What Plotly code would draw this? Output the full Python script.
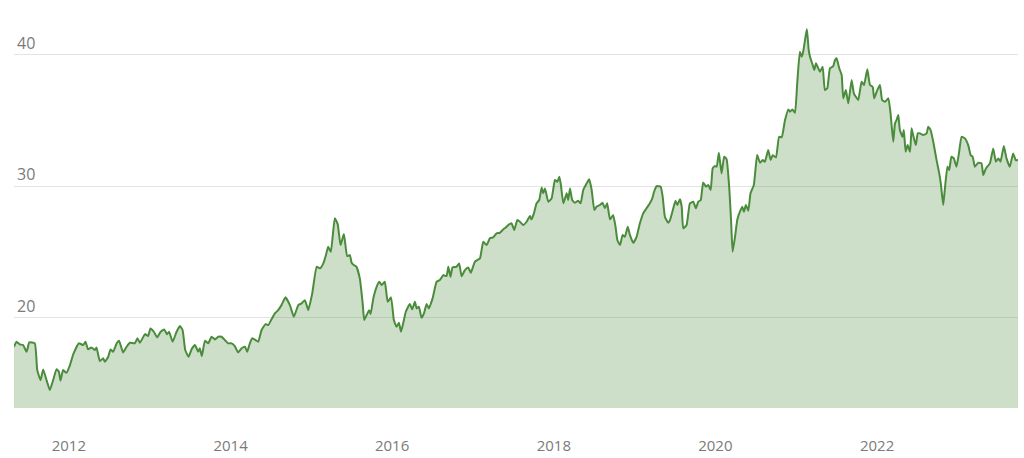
import plotly.graph_objects as go

dates = [
"2011-04-28","2011-05-09","2011-05-24","2011-06-08","2011-06-24","2011-07-06","2011-07-31","2011-08-11","2011-08-26","2011-09-07",
"2011-09-22","2011-10-07","2011-10-22","2011-11-06","2011-11-17","2011-11-24","2011-12-06","2011-12-21","2012-01-06","2012-01-21",
"2012-02-15","2012-03-06","2012-03-16","2012-03-28","2012-04-12","2012-04-28","2012-05-05","2012-05-20","2012-06-04","2012-06-12",
"2012-06-27","2012-07-07","2012-07-19","2012-08-04","2012-08-15","2012-09-02","2012-09-18","2012-10-03","2012-10-25","2012-11-06",
"2012-11-17","2012-12-10","2012-12-24","2013-01-04","2013-01-19","2013-02-03","2013-02-19","2013-03-07","2013-03-20","2013-03-29",
"2013-04-14","2013-05-02","2013-05-17","2013-05-29","2013-06-10","2013-06-25","2013-07-09","2013-07-24","2013-08-08","2013-08-15",
"2013-08-24","2013-09-07","2013-09-22","2013-10-07","2013-10-22","2013-11-06","2013-11-21","2013-12-06","2013-12-21","2014-01-05",
"2014-01-20","2014-02-04","2014-02-20","2014-03-07","2014-03-17","2014-03-29","2014-04-09","2014-04-24","2014-05-06","2014-05-21",
"2014-06-08","2014-06-20","2014-07-05","2014-07-20","2014-08-04","2014-08-19","2014-09-06","2014-09-26","2014-10-14","2014-11-03",
"2014-11-18","2014-12-03","2014-12-18","2015-01-05","2015-01-25","2015-02-09","2015-02-24","2015-03-08","2015-03-18","2015-03-30",
"2015-04-17","2015-04-30","2015-05-13","2015-05-28","2015-06-12","2015-06-24","2015-07-02","2015-07-12","2015-07-24","2015-08-08",
"2015-08-21","2015-08-28","2015-09-08","2015-09-19","2015-09-26","2015-10-08","2015-10-23","2015-11-04","2015-11-15","2015-11-29",
"2015-12-12","2015-12-27","2016-01-09","2016-01-21","2016-02-01","2016-02-10","2016-02-20","2016-03-03","2016-03-21","2016-04-01",
"2016-04-13","2016-04-21","2016-05-01","2016-05-13","2016-05-24","2016-06-05","2016-06-15","2016-07-02","2016-07-20","2016-08-04",
"2016-08-19","2016-09-03","2016-09-11","2016-09-21","2016-09-30","2016-10-18","2016-10-30","2016-11-10","2016-11-25","2016-12-10",
"2016-12-22","2017-01-09","2017-02-01","2017-02-16","2017-03-03","2017-03-18","2017-04-02","2017-04-17","2017-05-02","2017-05-17",
"2017-05-29","2017-06-09","2017-06-24","2017-07-06","2017-07-20","2017-08-01","2017-08-16","2017-08-31","2017-09-15","2017-09-22",
"2017-10-03","2017-10-15","2017-10-27","2017-11-07","2017-11-14","2017-11-22","2017-12-07","2017-12-22","2018-01-06","2018-01-17",
"2018-01-26","2018-02-02","2018-02-13","2018-02-28","2018-03-07","2018-03-15","2018-03-25","2018-04-06","2018-04-21","2018-05-02",
"2018-05-14","2018-05-29","2018-06-10","2018-06-21","2018-07-03","2018-07-13","2018-07-28","2018-08-09","2018-08-20","2018-08-30",
"2018-09-12","2018-09-26","2018-10-07","2018-10-15","2018-10-27","2018-11-08","2018-11-18","2018-12-01","2018-12-11","2018-12-26",
"2019-01-10","2019-01-25","2019-02-09","2019-02-24","2019-03-11","2019-03-22","2019-03-30","2019-04-11","2019-04-29","2019-05-08",
"2019-05-18","2019-06-02","2019-06-10","2019-06-25","2019-07-05","2019-07-13","2019-07-25","2019-08-02","2019-08-09","2019-08-24",
"2019-09-08","2019-09-23","2019-10-05","2019-10-16","2019-10-27","2019-11-07","2019-11-20","2019-11-30","2019-12-11","2019-12-20",
"2019-12-30","2020-01-07","2020-01-17","2020-01-29","2020-02-10","2020-02-21","2020-03-04","2020-03-12","2020-03-19","2020-03-30",
"2020-04-09","2020-04-21","2020-05-02","2020-05-09","2020-05-18","2020-05-29","2020-06-08","2020-06-23","2020-07-08","2020-07-21",
"2020-08-02","2020-08-12","2020-08-27","2020-09-07","2020-09-16","2020-10-01","2020-10-15","2020-10-27","2020-11-11","2020-11-26",
"2020-12-03","2020-12-14","2020-12-26","2021-01-05","2021-01-17","2021-01-25","2021-02-01","2021-02-13","2021-02-18","2021-02-26",
"2021-03-04","2021-03-16","2021-03-23","2021-03-31","2021-04-07","2021-04-18","2021-04-30","2021-05-10","2021-05-21","2021-06-02",
"2021-06-17","2021-06-25","2021-07-02","2021-07-14","2021-07-25","2021-08-01","2021-08-13","2021-08-24","2021-09-08","2021-09-18",
"2021-09-27","2021-10-08","2021-10-23","2021-11-03","2021-11-18","2021-11-30","2021-12-12","2021-12-19","2022-01-02","2022-01-14",
"2022-01-24","2022-02-06","2022-02-21","2022-03-03","2022-03-15","2022-03-23","2022-03-30","2022-04-07","2022-04-14","2022-04-26",
"2022-05-02","2022-05-10","2022-05-19","2022-05-30","2022-06-06","2022-06-13","2022-06-25","2022-07-04","2022-07-14","2022-07-29",
"2022-08-13","2022-08-20","2022-08-31","2022-09-12","2022-09-27","2022-10-09","2022-10-16","2022-10-27","2022-11-03","2022-11-15",
"2022-11-23","2022-12-03","2022-12-14","2022-12-26","2023-01-06","2023-01-18","2023-02-02","2023-02-17","2023-02-28","2023-03-09",
"2023-03-19","2023-04-03","2023-04-18","2023-04-26","2023-05-08","2023-05-26","2023-06-10","2023-06-22","2023-07-03","2023-07-13",
"2023-07-28","2023-08-09","2023-08-24","2023-09-08","2023-09-20","2023-09-30",
]

values = [
17.80,18.18,17.98,17.93,17.42,18.13,18.06,16.03,15.27,16.08,
15.27,14.51,15.27,16.10,15.90,15.22,16.03,15.82,16.41,17.24,
18.06,17.93,18.18,17.60,17.75,17.55,17.75,16.71,16.92,16.66,
17.04,17.60,17.42,18.06,18.25,17.37,17.80,18.10,18.06,18.44,
18.10,18.76,18.61,19.19,18.94,18.51,18.94,19.12,18.74,18.94,
18.18,18.94,19.37,19.07,17.55,17.04,17.62,17.93,17.42,17.68,
17.09,18.25,18.06,18.56,18.36,18.56,18.56,18.31,18.06,18.06,
17.85,17.37,17.68,17.80,17.42,18.06,18.44,18.31,18.18,19.07,
19.52,19.45,19.88,20.33,20.58,20.96,21.55,20.96,20.08,20.96,
21.09,21.34,20.58,21.85,23.87,23.75,24.13,24.76,25.39,25.01,
27.55,27.11,25.52,26.36,24.68,24.76,24.18,24.00,23.87,22.99,
21.09,19.83,20.21,20.58,20.28,21.47,22.35,22.73,22.48,22.73,
21.21,21.55,19.83,19.32,19.62,18.94,19.57,20.46,21.04,20.64,
21.21,20.71,20.84,20.00,20.33,21.04,20.71,21.47,22.73,22.86,
23.24,23.16,23.87,23.11,23.82,23.87,24.13,23.16,23.62,23.82,
23.42,24.25,24.51,25.77,25.52,26.03,26.10,26.41,26.45,26.71,
26.86,27.04,27.17,26.66,27.42,27.29,27.04,27.29,27.72,27.47,
27.93,28.69,28.94,29.90,29.45,29.82,28.81,29.07,30.46,30.33,
30.71,30.08,28.69,29.45,28.94,29.82,28.94,28.73,28.89,28.69,
29.70,30.20,30.51,29.70,28.18,28.43,28.56,28.73,28.31,28.69,
27.47,27.80,26.91,25.90,25.52,26.28,26.15,26.91,26.28,25.70,
26.15,27.17,27.93,28.31,28.69,29.07,29.57,30.00,29.95,29.19,
27.67,27.21,27.42,28.31,28.89,28.56,28.99,28.43,26.79,27.04,
28.69,28.81,28.31,28.81,28.94,30.28,29.95,30.08,29.70,31.34,
31.52,31.47,32.53,30.96,32.23,32.03,29.82,27.42,25.01,26.15,
27.42,28.05,28.43,28.05,28.56,28.13,29.45,30.08,32.35,31.77,
31.97,31.85,32.73,31.97,32.35,32.18,33.74,33.70,35.01,35.82,
35.64,35.82,35.57,37.80,40.20,39.82,40.20,41.47,41.90,40.33,
39.82,39.19,38.81,39.32,39.06,38.68,39.06,37.29,37.42,38.94,
39.11,39.57,39.70,38.94,38.43,36.66,37.29,36.28,38.05,37.04,
36.78,36.53,37.92,37.67,38.86,37.67,37.54,36.66,37.29,37.67,
36.53,36.40,36.66,35.52,33.36,34.76,35.01,35.39,34.25,33.74,
34.25,32.61,33.11,32.61,34.38,33.87,33.11,34.00,34.00,33.87,
34.00,34.50,34.25,33.36,31.97,30.96,30.20,28.56,29.70,31.47,
31.21,32.23,32.10,31.47,32.48,33.74,33.62,33.11,32.35,32.23,
31.47,31.77,31.72,30.83,31.34,31.72,32.86,31.85,32.10,31.85,
33.04,32.10,31.47,32.48,31.97,31.97,
]

y_ticks = [20, 30, 40]
x_ticks = ["2012-01-01", "2014-01-01", "2016-01-01", "2018-01-01", "2020-01-01", "2022-01-01"]
x_tick_labels = ["2012", "2014", "2016", "2018", "2020", "2022"]

fig = go.Figure()
fig.add_trace(go.Scatter(
    x=dates, y=values, mode="lines",
    line=dict(color="#4a8c3c", width=2, shape="spline", smoothing=0.4),
    fill="tozeroy", fillcolor="rgba(74,140,60,0.28)",
    hoverinfo="skip", showlegend=False,
))

font_color = "#7a7a7a"
fig.update_layout(
    width=1024, height=458,
    margin=dict(l=14, r=6, t=28, b=50, autoexpand=False),
    paper_bgcolor="white", plot_bgcolor="white",
    font=dict(family="Open Sans, sans-serif", size=15, color=font_color),
    xaxis=dict(
        type="date", range=["2011-04-28", "2023-09-30"],
        tickvals=x_ticks, ticktext=x_tick_labels,
        showgrid=False, zeroline=False, showline=False,
        ticks="outside", ticklen=24, tickcolor="rgba(0,0,0,0)",
        tickfont=dict(size=15, color=font_color),
        automargin=False,
    ),
    yaxis=dict(
        range=[13.15, 42.0], tickvals=y_ticks,
        showgrid=True, gridcolor="#e3e3e3", gridwidth=1,
        zeroline=False, showline=False,
        ticklabelposition="inside top",
        tickfont=dict(size=16, color=font_color),
        automargin=False,
    ),
)

fig.write_html("out.html")
